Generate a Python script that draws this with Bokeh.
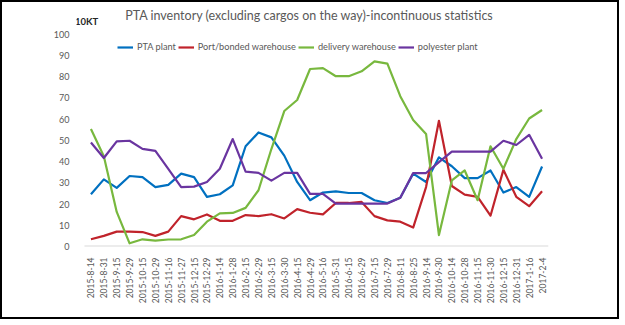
from bokeh.plotting import figure
from bokeh.models import Range1d, Legend, LegendItem, Label, FixedTicker
from bokeh.embed import file_html
from bokeh.resources import INLINE
import math

dates = ["2015-8-14","2015-8-31","2015-9-15","2015-9-29","2015-10-15","2015-10-29","2015-11-16","2015-11-27",
         "2015-12-15","2015-12-29","2016-1-14","2016-1-28","2016-2-15","2016-2-29","2016-3-15","2016-3-30",
         "2016-4-15","2016-4-29","2016-5-16","2016-5-31","2016-6-15","2016-6-29","2016-7-15","2016-7-29",
         "2016-8-11","2016-8-25","2016-9-14","2016-9-30","2016-10-14","2016-10-28","2016-11-15","2016-11-30",
         "2016-12-15","2016-12-31","2017-1-16","2017-2-4"]

pta_plant = [24.6, 31.6, 27.6, 33.2, 32.7, 28.0, 29.0, 34.3, 32.7, 23.4, 24.6, 28.8, 47.2, 53.7, 51.4, 42.8,
             30.4, 21.8, 25.4, 26.0, 25.2, 25.2, 21.8, 20.5, 23.0, 34.3, 30.4, 42.0, 37.8, 32.2, 32.2, 35.8,
             25.4, 28.0, 23.4, 37.7]
port_bonded = [3.4, 5.0, 7.0, 7.0, 6.8, 5.0, 7.0, 14.3, 12.8, 15.1, 12.1, 12.1, 14.8, 14.3, 15.2, 13.2,
               17.6, 15.9, 15.1, 20.5, 20.5, 21.0, 14.3, 12.3, 11.7, 8.9, 28.0, 59.2, 28.5, 24.4, 23.4, 14.5,
               36.1, 23.4, 19.0, 26.0]
delivery = [55.3, 42.5, 16.3, 1.5, 3.4, 2.8, 3.3, 3.4, 5.4, 11.7, 15.6, 15.8, 18.2, 26.5, 45.9, 63.8,
            69.0, 83.6, 84.0, 80.2, 80.2, 82.5, 87.2, 86.1, 70.8, 59.6, 53.0, 5.4, 31.1, 35.8, 21.8, 47.2,
            36.6, 50.6, 60.3, 64.3]
polyester = [49.0, 41.7, 49.5, 49.8, 46.0, 45.0, 36.6, 28.0, 28.2, 30.4, 36.6, 50.6, 35.3, 34.7, 31.0, 34.7,
             34.7, 24.8, 24.8, 20.2, 20.2, 20.2, 20.2, 20.2, 23.0, 34.6, 34.6, 39.7, 44.7, 44.7, 44.7, 44.7,
             49.8, 47.8, 52.6, 41.3]

series_names = ["PTA plant", "Port/bonded warehouse", "delivery warehouse", "polyester plant"]
series_colors = ["#0070C0", "#C0232B", "#78B83E", "#6A35A0"]
y_ticks = list(range(0, 101, 10))
unit_label = "10KT"
title_text = "PTA inventory (excluding cargos on the way)-incontinuous statistics"

FONT = "Lato"
idx = list(range(len(dates)))

p = figure(width=619, height=319, x_range=Range1d(-1.12, 35.5), y_range=Range1d(0, 113.5),
           output_backend="svg", toolbar_location=None,
           min_border_left=74, min_border_right=73, min_border_top=3, min_border_bottom=75,
           background_fill_color="white", border_fill_color="white")
p.styles = {"border": "2px solid #000000"}
p.outline_line_color = None
p.xgrid.visible = False
p.ygrid.visible = False

# category axis baseline
p.segment(x0=[-0.5], y0=[0], x1=[len(dates) - 0.5], y1=[0], line_color="#D9D9D9", line_width=2)

renderers = []
for vals, col in zip([pta_plant, port_bonded, delivery, polyester], series_colors):
    r = p.line(idx, vals, line_color=col, line_width=2.2, line_join="round")
    renderers.append(r)

p.yaxis.ticker = FixedTicker(ticks=y_ticks)
p.yaxis.axis_line_color = None
p.yaxis.major_tick_line_color = None
p.yaxis.minor_tick_line_color = None
p.yaxis.major_label_text_font = FONT
p.yaxis.major_label_text_font_size = "9px"
p.yaxis.major_label_text_color = "#595959"
p.yaxis.major_label_standoff = 1

p.xaxis.ticker = FixedTicker(ticks=idx)
p.xaxis.major_label_overrides = {i: d for i, d in zip(idx, dates)}
p.xaxis.axis_line_color = None
p.xaxis.major_tick_line_color = None
p.xaxis.minor_tick_line_color = None
p.xaxis.major_label_orientation = math.pi / 2
p.xaxis.major_label_text_font = FONT
p.xaxis.major_label_text_font_size = "8.5px"
p.xaxis.major_label_text_color = "#595959"
p.xaxis.major_label_standoff = 5

legend = Legend(items=[LegendItem(label=n, renderers=[r]) for n, r in zip(series_names, renderers)],
                orientation="horizontal", location=(41, 194), padding=0, margin=0, spacing=2,
                label_text_font=FONT, label_text_font_size="9.2px", label_text_color="#595959",
                glyph_width=16, glyph_height=10, label_height=10, label_standoff=4,
                border_line_color=None, background_fill_alpha=0)
p.add_layout(legend, "center")

p.add_layout(Label(x=233, y=231, x_units="screen", y_units="screen", text=title_text,
                   text_font=FONT, text_font_size="12.5px", text_color="#595959",
                   text_align="center", text_baseline="middle"))
p.add_layout(Label(x=10, y=225, x_units="screen", y_units="screen", text=unit_label,
                   text_font=FONT, text_font_size="9.5px", text_font_style="bold", text_color="#262626",
                   text_align="center", text_baseline="middle"))

open("out.html", "w").write(file_html(p, INLINE))
